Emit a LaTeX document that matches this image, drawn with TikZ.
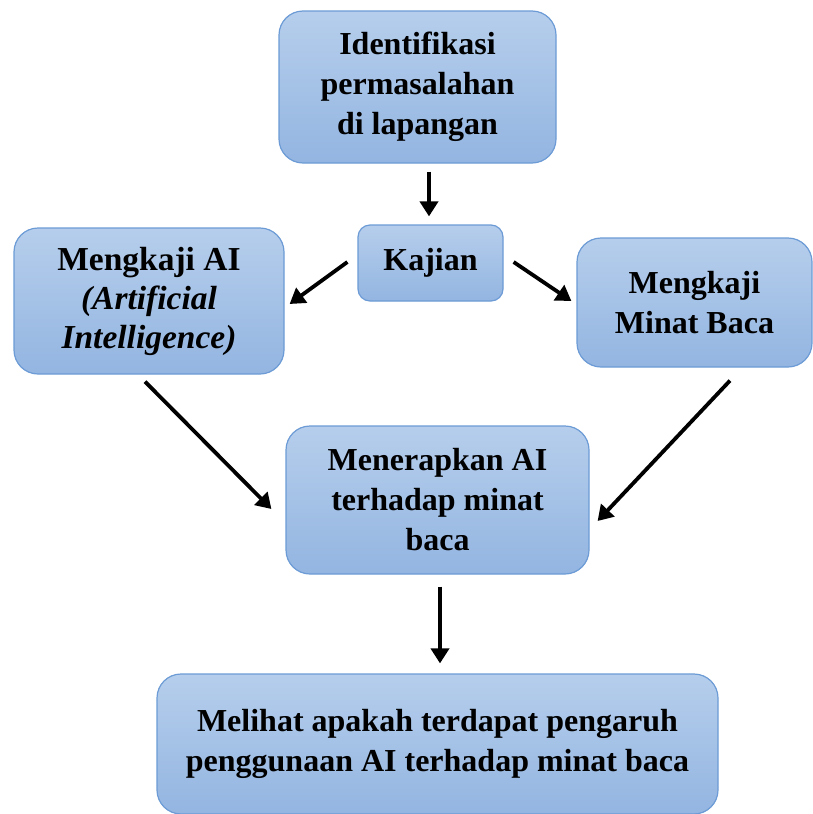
\documentclass[tikz,border=0pt]{standalone}
\usepackage{fontspec}
\setmainfont{Liberation Serif}
\usetikzlibrary{calc,arrows.meta}
\definecolor{boxtop}{HTML}{B6CEEC}
\definecolor{boxbot}{HTML}{93B5E1}
\definecolor{boxline}{HTML}{6C9BD5}
\tikzset{
  box/.style={draw=boxline, line width=1.2pt, rounded corners=24pt,
    top color=boxtop, bottom color=boxbot, align=center,
    font=\fontsize{32}{40}\selectfont\bfseries, inner sep=0pt},
  arr/.style={line width=3.8pt, -{Triangle[length=15pt,width=18pt]}}
}
\begin{document}
\begin{tikzpicture}[x=1pt,y=-1pt]
\useasboundingbox (0,0) rectangle (813,814);
\node[box, minimum width=277, minimum height=152] (iden) at (417.5,87) {Identifikasi\\permasalahan\\di lapangan};
\node[box, minimum width=145, minimum height=76, rounded corners=12pt] (kaj) at (430.5,263) {Kajian};
\node[box, minimum width=270, minimum height=146, font=\fontsize{33.5}{39}\selectfont\bfseries] (ai) at (149,301) {Mengkaji AI\\\textit{(Artificial}\\\textit{Intelligence)}};
\node[box, minimum width=235, minimum height=129] (mb) at (694.5,302.5) {Mengkaji\\Minat Baca};
\node[box, minimum width=303, minimum height=148] (men) at (437.5,500) {Menerapkan AI\\terhadap minat\\baca};
\node[box, minimum width=561, minimum height=140] (mel) at (437.5,744) {Melihat apakah terdapat pengaruh\\penggunaan AI terhadap minat baca};
\draw[arr] ($(iden.south -| kaj.north)+(-1.5,8)$) -- ($(kaj.north)+(-1.5,-8)$);
\draw[arr] ($(kaj.west)+(-10,-1)$) -- ($(ai.east)+(5,3)$);
\draw[arr] ($(kaj.east)+(10,-1)$) -- ($(mb.west)+(-5,-1.5)$);
\draw[arr] ($(ai.south)+(-4,7)$) -- ($(men.west)+(-14,9)$);
\draw[arr] ($(mb.south)+(35.5,13)$) -- ($(men.east)+(8,21)$);
\draw[arr] ($(men.south)+(2.5,12)$) -- ($(mel.north)+(2.5,-10)$);
\end{tikzpicture}
\end{document}
